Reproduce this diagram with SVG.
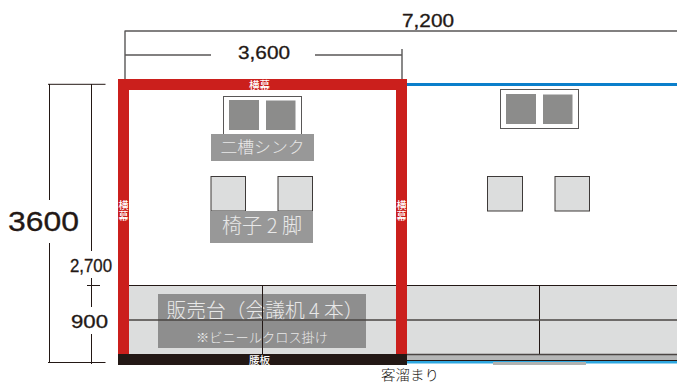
<svg xmlns="http://www.w3.org/2000/svg" width="677" height="383" viewBox="0 0 677 383">
<style>
.dim{stroke:#231815;stroke-width:1;fill:none}
.dimg{stroke:#595757;stroke-width:1.4;fill:none}
.num{font-family:"Liberation Sans",Arial,sans-serif;fill:#231815;stroke:#231815;stroke-width:.3}
.jp{font-family:"Noto Sans CJK JP",sans-serif;font-weight:300;fill:#e8e8e8;text-anchor:middle}
.tag{font-family:"Noto Sans CJK JP",sans-serif;font-size:10px;font-weight:500;fill:#fff;text-anchor:middle}
.lab{fill:#989898}
.sq{fill:#8c8c8b}
.sink{fill:#fff;stroke:#595757;stroke-width:1}
.chair{fill:#dcdddd;stroke:#3e3a39;stroke-width:1}
.red{fill:#cb1f1c}
.ln{stroke:#231815;stroke-width:1;fill:none}
</style>
<g id="counter">
<rect x="129" y="285" width="548" height="69" fill="#dcdddd"/>
<rect x="407" y="355" width="270" height="5" fill="#b5b6b6"/>
<rect x="158" y="294" width="208" height="54" fill="#8e8e8e"/>
<text class="jp" x="265" y="318" font-size="20" textLength="197" lengthAdjust="spacingAndGlyphs">販売台（会議机 4 本）</text>
<text class="jp" x="262" y="342" font-size="13" textLength="132" lengthAdjust="spacingAndGlyphs">※ビニールクロス掛け</text>
<path class="ln" d="M129 285.500H677M262.500 285V354M539.500 285V354"/>
<path d="M129 320H677M407 354.500H677" stroke="#4a4543" stroke-width="1.400" fill="none"/>
<path d="M407 360.500H677" stroke="#231815" stroke-width="1"/>
<rect x="407" y="361" width="270" height="2.500" fill="#2ea7e0"/>
<rect x="493" y="362" width="93" height="3" fill="#b0b2b1"/>
</g>
<g id="sink-1">
<rect class="sink" x="223.500" y="96.500" width="78" height="38"/>
<rect class="sq" x="229" y="100" width="30" height="30"/>
<rect class="sq" x="266" y="100.500" width="29.500" height="29.500"/>
</g>
<g id="sink-label">
<rect class="lab" x="211" y="134" width="103" height="27"/>
<text class="jp" x="262.500" y="153" font-size="16" textLength="84" lengthAdjust="spacingAndGlyphs">二槽シンク</text>
</g>
<g id="chairs-1">
<rect class="chair" x="211" y="176.500" width="34.500" height="34.500"/>
<rect class="chair" x="278" y="176.500" width="34.500" height="34.500"/>
</g>
<g id="chair-label">
<rect class="lab" x="210" y="211" width="103" height="32"/>
<text class="jp" x="262" y="233" font-size="20" textLength="80" lengthAdjust="spacingAndGlyphs">椅子 2 脚</text>
</g>
<g id="sink-2">
<rect class="sink" x="500.500" y="89.500" width="78" height="39"/>
<rect class="sq" x="506" y="94" width="30" height="30"/>
<rect class="sq" x="543" y="94.500" width="29.500" height="29.500"/>
</g>
<g id="chairs-2">
<rect class="chair" x="487.500" y="176.500" width="35" height="34.500"/>
<rect class="chair" x="555" y="176.500" width="34.500" height="34.500"/>
</g>
<g id="frame">
<rect x="407" y="83" width="270" height="3" fill="#0b7fcb"/>
<path class="red" d="M118 79H407V354H396V90H129V354H118Z"/>
<rect x="118" y="354" width="289" height="11" fill="#231815"/>
<text class="tag" x="259.500" y="89" textLength="21" lengthAdjust="spacingAndGlyphs">横幕</text>
<text class="tag" x="123.500" y="209">横<tspan x="123.500" dy="10.500">幕</tspan></text>
<text class="tag" x="401.500" y="209">横<tspan x="401.500" dy="10.500">幕</tspan></text>
<text class="tag" x="259.500" y="364" textLength="21" lengthAdjust="spacingAndGlyphs">腰板</text>
</g>
<g id="dimensions">
<path class="dimg" d="M125 31H677M125 30.500V79M125 55H211M315 55H402M402 49V79"/>
<path class="dim" d="M48 84.300H105.500M49.500 84V200M49.500 243V362M91.500 84V251M91.500 278V307M91.500 334V364M87 285.500H100M48 362.500H105.500"/>
<text class="num" x="402" y="27" font-size="18" textLength="52" lengthAdjust="spacingAndGlyphs">7,200</text>
<text class="num" x="238" y="59" font-size="18" textLength="52" lengthAdjust="spacingAndGlyphs">3,600</text>
<text class="num" x="8" y="231" font-size="28" textLength="71" lengthAdjust="spacingAndGlyphs">3600</text>
<text class="num" x="70" y="272" font-size="18" textLength="42" lengthAdjust="spacingAndGlyphs">2,700</text>
<text class="num" x="71" y="328" font-size="18" textLength="37" lengthAdjust="spacingAndGlyphs">900</text>
<text x="381" y="380" font-family="Noto Sans CJK JP,sans-serif" font-size="13.500" font-weight="300" fill="#231815" textLength="58" lengthAdjust="spacingAndGlyphs">客溜まり</text>
</g>
</svg>
